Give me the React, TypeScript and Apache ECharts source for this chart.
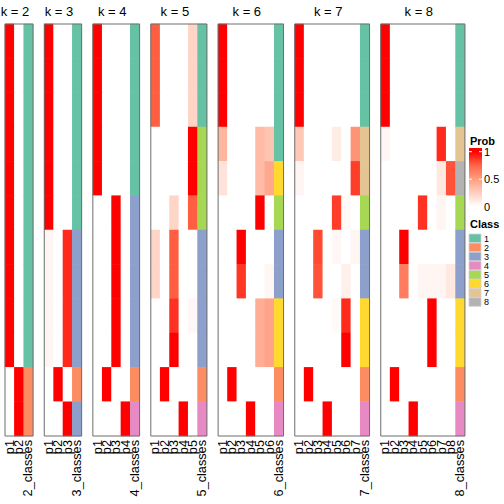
import React, { useEffect, useRef } from "react";
import * as echarts from "echarts";

// ---- data ----
const ROW_IDS = ["s1", "s2", "s3", "s4", "s5", "s6", "s7", "s8", "s9", "s10", "s11", "s12"];

const probK2 = [
  [1, 0], [1, 0], [1, 0], [1, 0], [1, 0], [1, 0], [1, 0], [1, 0], [1, 0], [1, 0],
  [0, 1], [0, 1],
];
const classK2 = [1, 1, 1, 1, 1, 1, 1, 1, 1, 1, 2, 2];

const probK3 = [
  [1, 0, 0], [1, 0, 0], [1, 0, 0], [1, 0, 0], [1, 0, 0], [1, 0, 0],
  [0.05, 0, 0.9], [0.05, 0, 0.9], [0.05, 0, 0.9], [0.05, 0, 0.9],
  [0, 1, 0], [0, 0, 1],
];
const classK3 = [1, 1, 1, 1, 1, 1, 3, 3, 3, 3, 2, 3];

const probK4 = [
  [1, 0, 0, 0], [1, 0, 0, 0], [1, 0, 0, 0], [1, 0, 0, 0], [1, 0, 0, 0],
  [0, 0, 1, 0], [0, 0, 1, 0], [0, 0, 1, 0], [0, 0, 1, 0], [0, 0, 1, 0],
  [0, 1, 0, 0], [0, 0, 0, 1],
];
const classK4 = [1, 1, 1, 1, 1, 3, 3, 3, 3, 3, 2, 4];

const probK5 = [
  [0.77, 0, 0, 0, 0.22], [0.77, 0, 0, 0, 0.22], [0.77, 0, 0, 0, 0.22],
  [0, 0, 0, 0, 1], [0, 0, 0, 0, 1],
  [0, 0, 0.22, 0, 0.77],
  [0.22, 0, 0.77, 0, 0], [0.22, 0, 0.77, 0, 0],
  [0, 0, 0.88, 0, 0.04],
  [0, 0, 1, 0, 0],
  [0, 1, 0, 0, 0],
  [0, 0, 0, 1, 0],
];
const classK5 = [1, 1, 1, 5, 5, 5, 3, 3, 3, 3, 2, 4];

const probK6 = [
  [1, 0, 0, 0, 0, 0], [1, 0, 0, 0, 0, 0], [1, 0, 0, 0, 0, 0],
  [0.38, 0, 0, 0, 0.35, 0.3],
  [0.15, 0, 0, 0, 0.35, 0.45],
  [0, 0, 0, 0, 1, 0],
  [0, 0, 1, 0, 0, 0],
  [0, 0, 0.87, 0, 0, 0.05],
  [0, 0, 0, 0, 0.42, 0.47], [0, 0, 0, 0, 0.42, 0.47],
  [0, 1, 0, 0, 0, 0],
  [0, 0, 0, 1, 0, 0],
];
const classK6 = [1, 1, 1, 1, 6, 5, 3, 3, 6, 6, 2, 4];

const probK7 = [
  [1, 0, 0, 0, 0, 0, 0], [1, 0, 0, 0, 0, 0, 0], [1, 0, 0, 0, 0, 0, 0],
  [0.28, 0, 0, 0, 0.1, 0, 0.55],
  [0.05, 0, 0, 0, 0, 0, 0.85],
  [0, 0, 0, 0, 0.85, 0.03, 0],
  [0, 0, 0.82, 0, 0.04, 0, 0.05],
  [0, 0, 0.8, 0, 0, 0.08, 0],
  [0, 0, 0, 0, 0.03, 0.9, 0],
  [0, 0, 0, 0, 0, 1, 0],
  [0, 1, 0, 0, 0, 0, 0],
  [0, 0, 0, 1, 0, 0, 0],
];
const classK7 = [1, 1, 1, 7, 7, 5, 3, 3, 6, 6, 2, 4];

const probK8 = [
  [1, 0, 0, 0, 0, 0, 0, 0], [1, 0, 0, 0, 0, 0, 0, 0], [1, 0, 0, 0, 0, 0, 0, 0],
  [0.04, 0, 0, 0, 0, 0, 0.9, 0],
  [0, 0, 0, 0, 0, 0, 0.12, 0.8],
  [0, 0, 0, 0, 0.88, 0, 0.05, 0],
  [0, 0, 1, 0, 0, 0, 0, 0],
  [0, 0, 0.65, 0, 0.05, 0.05, 0.05, 0.12],
  [0, 0, 0, 0, 0, 1, 0, 0], [0, 0, 0, 0, 0, 1, 0, 0],
  [0, 1, 0, 0, 0, 0, 0, 0],
  [0, 0, 0, 1, 0, 0, 0, 0],
];
const classK8 = [1, 1, 1, 7, 8, 5, 3, 3, 6, 6, 2, 4];

const CLASS_COLORS = ["#66C2A5", "#FC8D62", "#8DA0CB", "#E78AC3", "#A6D854", "#FFD92F", "#E5C494", "#B3B3B3"];
const PROB_COLORS = ["#FFFFFF", "#FFCFBF", "#FF9E81", "#FF6746", "#FF0000"];
const PROB_TICKS = ["1", "0.5", "0"];
const CLASS_LABELS = ["1", "2", "3", "4", "5", "6", "7", "8"];

const PANELS = [
  { k: 2, prob: probK2, cls: classK2 },
  { k: 3, prob: probK3, cls: classK3 },
  { k: 4, prob: probK4, cls: classK4 },
  { k: 5, prob: probK5, cls: classK5 },
  { k: 6, prob: probK6, cls: classK6 },
  { k: 7, prob: probK7, cls: classK7 },
  { k: 8, prob: probK8, cls: classK8 },
];

// ---- layout ----
const FONT = "'Liberation Sans', Arial, Helvetica, sans-serif";
const COL_W = 9.35;
const GAP = 11.2;
const TOP = 24;
const HEIGHT = 412;
const START_X = 5;

function buildOption() {
  const grids: any[] = [];
  const xAxes: any[] = [];
  const yAxes: any[] = [];
  const probSeries: any[] = [];
  const classSeries: any[] = [];
  const graphics: any[] = [];

  let x = START_X;
  PANELS.forEach((p, i) => {
    const ncol = p.k + 1;
    const w = ncol * COL_W;
    grids.push({ left: x, top: TOP, width: w, height: HEIGHT, show: false });
    const cats = [] as string[];
    for (let c = 1; c <= p.k; c++) cats.push("p" + c);
    cats.push(p.k + "_classes");
    xAxes.push({
      type: "category",
      gridIndex: i,
      data: cats,
      position: "bottom",
      axisLine: { show: false },
      axisTick: { show: false },
      splitLine: { show: false },
      axisLabel: {
        interval: 0,
        rotate: 90,
        margin: 4,
        fontSize: 12.7,
        fontFamily: FONT,
        color: "#000",
      },
    });
    yAxes.push({
      type: "category",
      gridIndex: i,
      data: ROW_IDS,
      inverse: true,
      show: false,
    });
    const data: any[] = [];
    p.prob.forEach((row, r) => row.forEach((v, c) => data.push([c, r, v])));
    probSeries.push({
      type: "heatmap",
      xAxisIndex: i,
      yAxisIndex: i,
      data,
      itemStyle: { borderWidth: 0 },
      emphasis: { disabled: true },
    });
    classSeries.push({
      type: "heatmap",
      xAxisIndex: i,
      yAxisIndex: i,
      data: p.cls.map((cl, r) => [p.k, r, cl]),
      itemStyle: { borderWidth: 0 },
      emphasis: { disabled: true },
    });
    graphics.push({
      type: "rect",
      shape: { x: x, y: TOP, width: w, height: HEIGHT },
      style: { fill: "none", stroke: "#6e6e6e", lineWidth: 1 },
      z: 100,
      silent: true,
    });
    graphics.push({
      type: "text",
      x: x + w / 2 - 4,
      y: 11,
      style: {
        text: "k = " + p.k,
        font: "13px " + FONT,
        fill: "#000",
        textAlign: "center",
        textVerticalAlign: "middle",
      },
      z: 100,
    });
    x += w + GAP;
  });

  // Prob legend
  const LX = 469;
  const yTop = 151.7;
  const yBot = 206.7;
  const barY = 148;
  const barH = 62;
  const off = (v: number) => (yTop + (1 - v) * (yBot - yTop) - barY) / barH;
  graphics.push({
    type: "text",
    x: 470,
    y: 141,
    style: { text: "Prob", font: "bold 11px " + FONT, fill: "#000", textVerticalAlign: "middle" },
  });
  graphics.push({
    type: "rect",
    shape: { x: LX, y: barY, width: 13, height: barH },
    style: {
      fill: new echarts.graphic.LinearGradient(0, 0, 0, 1, [
        { offset: 0, color: PROB_COLORS[4] },
        { offset: off(1), color: PROB_COLORS[4] },
        { offset: off(0.75), color: PROB_COLORS[3] },
        { offset: off(0.5), color: PROB_COLORS[2] },
        { offset: off(0.25), color: PROB_COLORS[1] },
        { offset: off(0), color: PROB_COLORS[0] },
        { offset: 1, color: PROB_COLORS[0] },
      ]),
    },
  });
  [1, 0.5].forEach((v) => {
    const yy = yTop + (1 - v) * (yBot - yTop);
    graphics.push({ type: "line", shape: { x1: LX, y1: yy, x2: LX + 3, y2: yy }, style: { stroke: "#fff", lineWidth: 1 } });
    graphics.push({ type: "line", shape: { x1: LX + 10, y1: yy, x2: LX + 13, y2: yy }, style: { stroke: "#fff", lineWidth: 1 } });
  });
  PROB_TICKS.forEach((t, j) => {
    graphics.push({
      type: "text",
      x: 484,
      y: yTop + j * ((yBot - yTop) / 2),
      style: { text: t, font: "11px " + FONT, fill: "#000", textVerticalAlign: "middle" },
    });
  });

  // Class legend
  const CY0 = 238.3;
  const STEP = 9.1;
  graphics.push({
    type: "text",
    x: 470,
    y: 224,
    style: { text: "Class", font: "bold 11px " + FONT, fill: "#000", textVerticalAlign: "middle" },
  });
  CLASS_LABELS.forEach((lab, j) => {
    const cy = CY0 + j * STEP;
    graphics.push({
      type: "rect",
      shape: { x: LX, y: cy - 4.3, width: 12, height: 8.6 },
      style: { fill: CLASS_COLORS[j], stroke: "#d0d0d0", lineWidth: 0.8 },
    });
    graphics.push({
      type: "text",
      x: 484,
      y: cy + 0.3,
      style: {
        text: lab,
        font: "9px " + FONT,
        fill: "#000",
        textVerticalAlign: "middle",
      },
    });
  });

  const nP = PANELS.length;
  return {
    animation: false,
    backgroundColor: "#fff",
    grid: grids,
    xAxis: xAxes,
    yAxis: yAxes,
    visualMap: [
      {
        type: "continuous",
        min: 0,
        max: 1,
        dimension: 2,
        seriesIndex: PANELS.map((_, i) => i),
        inRange: { color: PROB_COLORS },
        show: false,
      },
      {
        type: "piecewise",
        dimension: 2,
        seriesIndex: PANELS.map((_, i) => i + nP),
        pieces: CLASS_COLORS.map((c, j) => ({ value: j + 1, color: c })),
        show: false,
      },
    ],
    series: [...probSeries, ...classSeries],
    graphic: graphics,
  };
}

export default function App() {
  const ref = useRef<HTMLDivElement>(null);
  useEffect(() => {
    if (!ref.current) return;
    const chart = echarts.init(ref.current, undefined, { renderer: "svg" });
    chart.setOption(buildOption() as any);
    return () => chart.dispose();
  }, []);
  return (
    <div
      ref={ref}
      style={{ position: "fixed", left: 0, top: 0, width: 504, height: 504, background: "#fff" }}
    />
  );
}
